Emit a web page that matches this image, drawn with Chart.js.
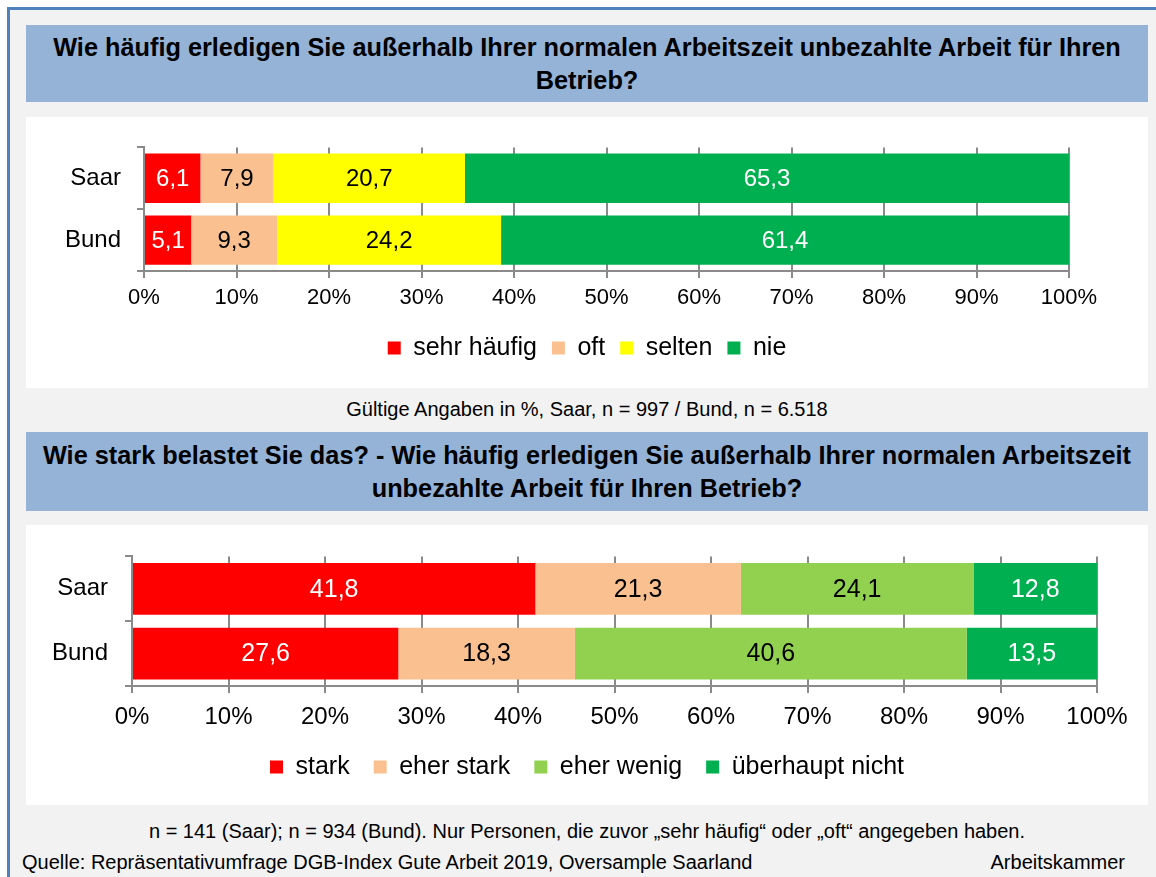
<!DOCTYPE html>
<html lang="de">
<head>
<meta charset="utf-8">
<title>Unbezahlte Arbeit außerhalb der Arbeitszeit</title>
<script src="https://cdn.jsdelivr.net/npm/chart.js@4.4.1/dist/chart.umd.min.js"></script>
<style>
  html, body { margin: 0; padding: 0; background: #fff; }
  body { width: 1156px; height: 877px; position: relative; overflow: hidden; font-family: "Liberation Sans", Arial, sans-serif; color: #000; }
  #rahmen { position: absolute; left: 7px; top: 7px; right: 0; bottom: 0; background: #f2f2f2; border-left: 3px solid #4f81bd; border-top: 3px solid #4f81bd; }
  .titel { position: absolute; left: 26px; width: 1122px; background: #95b3d7; display: flex; align-items: center; justify-content: center; text-align: center; font-weight: bold; font-size: 25.3px; line-height: 33px; }
  .feld { position: absolute; left: 26px; width: 1122px; background: #fff; }
  .feld canvas { display: block; }
  .notiz { position: absolute; left: 26px; width: 1122px; text-align: center; font-size: 20px; line-height: 24px; }
  .fuss { position: absolute; font-size: 20px; line-height: 24px; white-space: nowrap; }
</style>
</head>
<body>
<div id="rahmen"></div>

<div class="titel" style="top:25px;height:77px;">Wie häufig erledigen Sie außerhalb Ihrer normalen Arbeitszeit unbezahlte Arbeit für Ihren<br>Betrieb?</div>
<div class="feld" style="top:117px;height:271px;"><canvas id="grafik-haeufigkeit" width="1122" height="271"></canvas></div>
<div class="notiz" style="top:397px;">Gültige Angaben in %, Saar, n = 997 / Bund, n = 6.518</div>

<div class="titel" style="top:432px;height:79px;">Wie stark belastet Sie das? - Wie häufig erledigen Sie außerhalb Ihrer normalen Arbeitszeit<br>unbezahlte Arbeit für Ihren Betrieb?</div>
<div class="feld" style="top:525px;height:280px;"><canvas id="grafik-belastung" width="1122" height="280"></canvas></div>
<div class="notiz" style="top:819px;">n = 141 (Saar); n = 934 (Bund). Nur Personen, die zuvor „sehr häufig“ oder „oft“ angegeben haben.</div>

<div class="fuss" style="left:22px;top:850px;">Quelle: Repräsentativumfrage DGB-Index Gute Arbeit 2019, Oversample Saarland</div>
<div class="fuss" style="right:31px;top:850px;">Arbeitskammer</div>

<script>
const regionen = ['Saar', 'Bund'];

const haeufigkeitKategorien = ['sehr häufig', 'oft', 'selten', 'nie'];
const sehrHaeufig = [6.1, 5.1];
const oft = [7.9, 9.3];
const selten = [20.7, 24.2];
const nie = [65.3, 61.4];

const belastungKategorien = ['stark', 'eher stark', 'eher wenig', 'überhaupt nicht'];
const stark = [41.8, 27.6];
const eherStark = [21.3, 18.3];
const eherWenig = [24.1, 40.6];
const ueberhauptNicht = [12.8, 13.5];

const prozentMax = 100;
const prozentSchritt = 10;

const SCHRIFT = '"Liberation Sans", Arial, sans-serif';
const GITTER = '#8a8a8a';

// schreibt die Werte mittig in die Balken
const wertBeschriftung = {
    id: 'wertBeschriftung',
    afterDatasetsDraw(chart, args, opts) {
        const ctx = chart.ctx;
        ctx.save();
        ctx.font = `${opts.groesse}px ${SCHRIFT}`;
        ctx.textAlign = 'center';
        ctx.textBaseline = 'middle';
        chart.data.datasets.forEach((ds, i) => {
            chart.getDatasetMeta(i).data.forEach((balken, j) => {
                ctx.fillStyle = ds.textFarbe;
                const text = ds.data[j].toFixed(1).replace('.', ',');
                ctx.fillText(text, (balken.x + balken.base) / 2, balken.y + 1);
            });
        });
        ctx.restore();
    }
};

function Datensatz(label, werte, farbe, textFarbe) {
    return {
        label,
        data: werte,
        backgroundColor: farbe,
        borderWidth: 0,
        textFarbe,
        barPercentage: 0.8,
        categoryPercentage: 1
    };
}

function ErstelleGrafik(id, datensaetze, m) {
    const ctx = document.getElementById(id).getContext('2d');

    return new Chart(ctx, {
        type: 'bar',
        data: { labels: regionen, datasets: datensaetze },
        plugins: [wertBeschriftung],
        options: {
            indexAxis: 'y',
            responsive: false,
            animation: false,
            devicePixelRatio: 1,
            layout: { padding: { top: m.oben, right: 0, bottom: m.unten, left: 0 } },
            scales: {
                x: {
                    type: 'linear',
                    stacked: true,
                    min: 0,
                    max: prozentMax,
                    ticks: {
                        stepSize: prozentSchritt,
                        callback: v => v + '%',
                        color: '#000',
                        padding: m.tickAbstand,
                        maxRotation: 0,
                        font: { family: SCHRIFT, size: m.tickGroesse }
                    },
                    grid: { color: GITTER, lineWidth: 2, tickLength: 7 },
                    border: { color: GITTER, width: 2 },
                    afterFit: s => { s.height = m.xHoehe; }
                },
                y: {
                    stacked: true,
                    ticks: {
                        color: '#000',
                        padding: m.yAbstand,
                        font: { family: SCHRIFT, size: 24 }
                    },
                    grid: { offset: true, drawOnChartArea: false, color: GITTER, lineWidth: 2, tickLength: 7 },
                    border: { color: GITTER, width: 2 },
                    afterFit: s => { s.width = m.yBreite; }
                },
                // leere Achse rechts, damit die Legende über die ganze Breite zentriert bleibt
                rand: {
                    type: 'linear',
                    position: 'right',
                    ticks: { display: false },
                    grid: { display: false },
                    border: { display: false },
                    afterFit: s => { s.width = m.rechts; }
                }
            },
            plugins: {
                legend: {
                    position: 'bottom',
                    labels: {
                        boxWidth: 13,
                        boxHeight: 13,
                        padding: m.legendeAbstand,
                        color: '#000',
                        font: { family: SCHRIFT, size: 25 }
                    }
                },
                tooltip: { enabled: false },
                wertBeschriftung: { groesse: m.wertGroesse }
            }
        }
    });
}

ErstelleGrafik('grafik-haeufigkeit', [
    Datensatz(haeufigkeitKategorien[0], sehrHaeufig, '#ff0000', '#fff'),
    Datensatz(haeufigkeitKategorien[1], oft, '#fac090', '#000'),
    Datensatz(haeufigkeitKategorien[2], selten, '#ffff00', '#000'),
    Datensatz(haeufigkeitKategorien[3], nie, '#00b050', '#fff')
], {
    oben: 28, rechts: 79, unten: 17.5,
    xHoehe: 49.5, yBreite: 118,
    tickGroesse: 22, tickAbstand: 7, yAbstand: 16,
    legendeAbstand: 15, wertGroesse: 24
});

ErstelleGrafik('grafik-belastung', [
    Datensatz(belastungKategorien[0], stark, '#ff0000', '#fff'),
    Datensatz(belastungKategorien[1], eherStark, '#fac090', '#000'),
    Datensatz(belastungKategorien[2], eherWenig, '#92d050', '#000'),
    Datensatz(belastungKategorien[3], ueberhauptNicht, '#00b050', '#fff')
], {
    oben: 28, rechts: 51, unten: 15.5,
    xHoehe: 44.5, yBreite: 106,
    tickGroesse: 24, tickAbstand: 10, yAbstand: 17,
    legendeAbstand: 24, wertGroesse: 25
});
</script>
</body>
</html>
